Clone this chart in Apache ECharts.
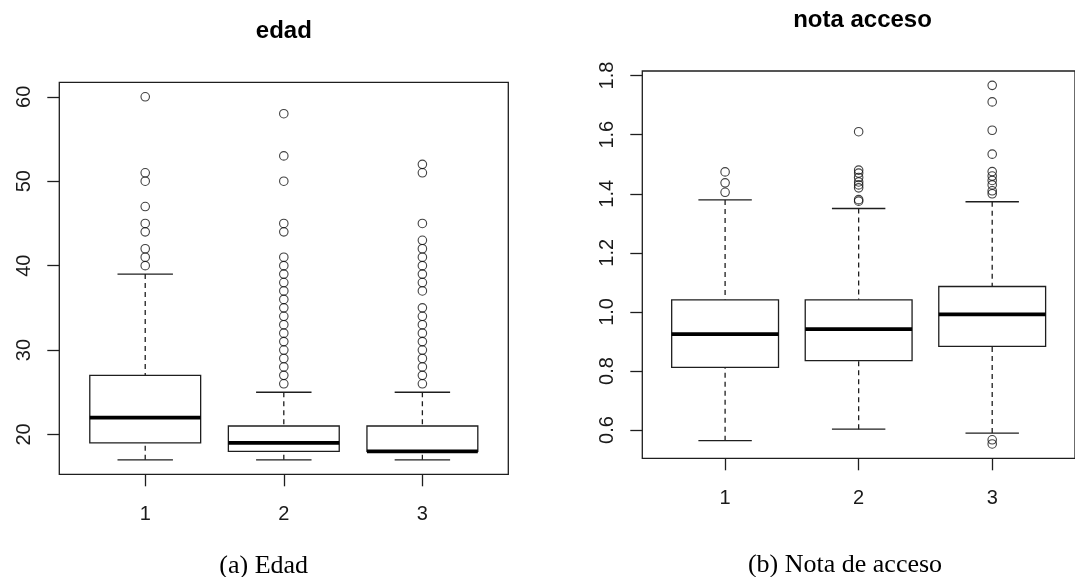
<!DOCTYPE html>
<html><head><meta charset="utf-8">
<script src="https://cdn.jsdelivr.net/npm/echarts@6/dist/echarts.min.js"></script>
<style>html,body{margin:0;padding:0;background:#fff}#c{width:1075px;height:577px}</style>
</head><body><div id="c"></div>
<script>
// ---- data ----
const groups = [1, 2, 3];
const ticksEdad = [20, 30, 40, 50, 60];
const ticksNota = [0.6, 0.8, 1.0, 1.2, 1.4, 1.6, 1.8];
// [lower whisker, Q1, median, Q3, upper whisker]
const edadStats = [[17, 19, 22, 27, 39], [17, 18, 19, 21, 25], [17, 18, 18, 21, 25]];
const edadOut1 = [40, 41, 42, 44, 45, 47, 50, 51, 60];
const edadOut2 = [26, 27, 28, 29, 30, 31, 32, 33, 34, 35, 36, 37, 38, 39, 40, 41, 44, 45, 50, 53, 58];
const edadOut3 = [26, 27, 28, 29, 30, 31, 32, 33, 34, 35, 37, 38, 39, 40, 41, 42, 43, 45, 51, 52];
const notaStats = [[0.564, 0.812, 0.925, 1.041, 1.379], [0.603, 0.835, 0.942, 1.041, 1.350], [0.590, 0.883, 0.992, 1.086, 1.373]];
const notaOut1 = [1.405, 1.437, 1.474];
const notaOut2 = [1.375, 1.38, 1.42, 1.43, 1.44, 1.455, 1.47, 1.48, 1.61];
const notaOut3 = [0.553, 0.567, 1.40, 1.41, 1.43, 1.445, 1.46, 1.475, 1.534, 1.615, 1.711, 1.767];

// ---- helpers ----
function rRange(arrs) {
  const all = [].concat(...arrs.map(a => a.flat()));
  const lo = Math.min(...all), hi = Math.max(...all), d = (hi - lo) * 0.04;
  return [lo - d, hi + d];
}
const edadRange = rRange([edadStats, edadOut1, edadOut2, edadOut3]);
const notaRange = rRange([notaStats, notaOut1, notaOut2, notaOut3]);
const xRange = [0.5 - 0.12, 3.5 + 0.12];

function outPts(lists) {
  const pts = [];
  lists.forEach((l, i) => l.forEach(v => pts.push([groups[i], v])));
  return pts;
}

const LC = '#1e1e1e';
function renderBox(params, api) {
  const x = api.value(0);
  const lo = api.coord([x, api.value(1)]);
  const q1 = api.coord([x, api.value(2)]);
  const med = api.coord([x, api.value(3)]);
  const q3 = api.coord([x, api.value(4)]);
  const hi = api.coord([x, api.value(5)]);
  const hw = api.size([0.8, 0])[0] / 2;
  const cw = hw / 2;
  const cx = lo[0];
  const ls = { stroke: LC, lineWidth: 1.3, fill: null };
  return { type: 'group', children: [
    { type: 'line', shape: { x1: cx, y1: hi[1], x2: cx, y2: q3[1] }, style: Object.assign({}, ls, { lineDash: [5, 4] }) },
    { type: 'line', shape: { x1: cx, y1: lo[1], x2: cx, y2: q1[1] }, style: Object.assign({}, ls, { lineDash: [5, 4] }) },
    { type: 'line', shape: { x1: cx - cw, y1: hi[1], x2: cx + cw, y2: hi[1] }, style: ls },
    { type: 'line', shape: { x1: cx - cw, y1: lo[1], x2: cx + cw, y2: lo[1] }, style: ls },
    { type: 'rect', shape: { x: cx - hw, y: q3[1], width: 2 * hw, height: q1[1] - q3[1] }, style: { stroke: LC, lineWidth: 1.3, fill: '#fff' } },
    { type: 'line', shape: { x1: cx - hw, y1: med[1], x2: cx + hw, y2: med[1] }, style: { stroke: '#000', lineWidth: 3.8 } }
  ] };
}

const axisFont = { fontFamily: 'Liberation Sans, Arial, sans-serif', fontSize: 20, color: '#1a1a1a' };
function xAx(gi) {
  return {
    type: 'value', gridIndex: gi, min: xRange[0], max: xRange[1],
    axisLine: { show: false }, splitLine: { show: false },
    axisTick: { show: true, customValues: groups, length: 12, lineStyle: { color: LC, width: 1.3 } },
    axisLabel: Object.assign({ customValues: groups, margin: 30 }, axisFont)
  };
}
function yAx(gi, range, ticks, fmt) {
  return {
    type: 'value', gridIndex: gi, min: range[0], max: range[1],
    axisLine: { show: false }, splitLine: { show: false },
    axisTick: { show: true, customValues: ticks, length: 12, lineStyle: { color: LC, width: 1.3 } },
    axisLabel: Object.assign({ customValues: ticks, margin: 25, rotate: 90, formatter: fmt }, axisFont)
  };
}
function outSeries(gi, data) {
  return {
    type: 'scatter', xAxisIndex: gi, yAxisIndex: gi, data: data, symbol: 'circle', symbolSize: 8.5,
    itemStyle: { color: 'rgba(0,0,0,0)', borderColor: '#111', borderWidth: 1.1 }, silent: true, z: 3
  };
}

const chart = echarts.init(document.getElementById('c'), null, { renderer: 'canvas' });
chart.setOption({
  animation: false,
  backgroundColor: '#fff',
  grid: [
    { left: 59.3, top: 82.3, width: 449, height: 392, show: true, borderColor: LC, borderWidth: 1.3, backgroundColor: 'transparent' },
    { left: 642.3, top: 71, width: 442.4, height: 387.3, show: true, borderColor: LC, borderWidth: 1.3, backgroundColor: 'transparent' }
  ],
  xAxis: [xAx(0), xAx(1)],
  yAxis: [yAx(0, edadRange, ticksEdad, v => String(v)), yAx(1, notaRange, ticksNota, v => v.toFixed(1))],
  series: [
    { type: 'custom', xAxisIndex: 0, yAxisIndex: 0, renderItem: renderBox, silent: true,
      data: groups.map((g, i) => [g].concat(edadStats[i])), encode: { x: 0, y: [1, 2, 3, 4, 5] } },
    outSeries(0, outPts([edadOut1, edadOut2, edadOut3])),
    { type: 'custom', xAxisIndex: 1, yAxisIndex: 1, renderItem: renderBox, silent: true,
      data: groups.map((g, i) => [g].concat(notaStats[i])), encode: { x: 0, y: [1, 2, 3, 4, 5] } },
    outSeries(1, outPts([notaOut1, notaOut2, notaOut3]))
  ],
  graphic: [
    { type: 'text', x: 283.8, y: 31.5, style: { text: 'edad', font: 'bold 24px "Liberation Sans", Arial, sans-serif', fill: '#000', align: 'center', verticalAlign: 'middle' } },
    { type: 'text', x: 862.5, y: 20, style: { text: 'nota acceso', font: 'bold 24px "Liberation Sans", Arial, sans-serif', fill: '#000', align: 'center', verticalAlign: 'middle' } },
    { type: 'text', x: 263.7, y: 566, style: { text: '(a) Edad', font: '26px "Liberation Serif", serif', fill: '#000', align: 'center', verticalAlign: 'middle' } },
    { type: 'text', x: 845, y: 565, style: { text: '(b) Nota de acceso', font: '26px "Liberation Serif", serif', fill: '#000', align: 'center', verticalAlign: 'middle' } }
  ]
});
</script></body></html>
